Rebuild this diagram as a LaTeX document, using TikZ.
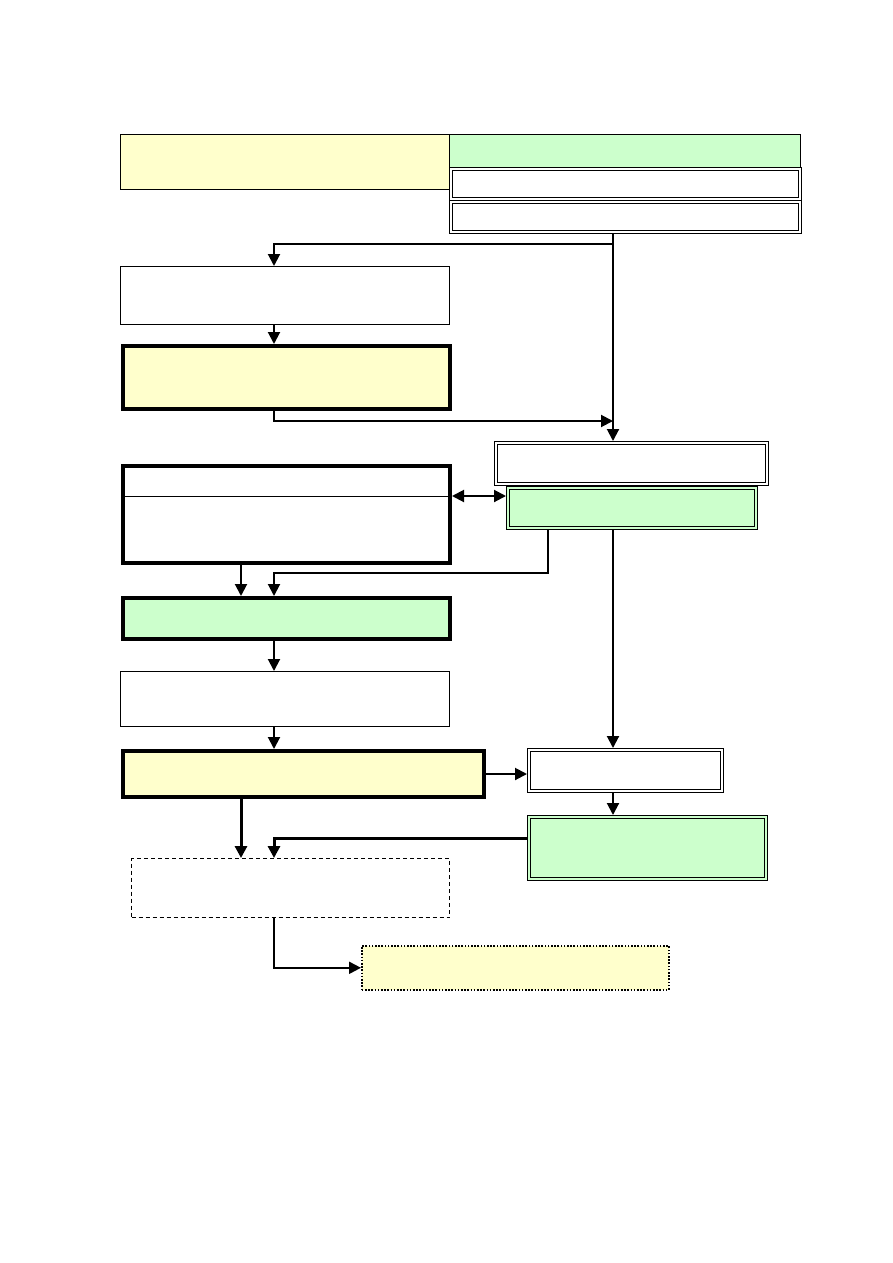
\documentclass[tikz,border=0pt]{standalone}
\definecolor{paleyellow}{RGB}{255,255,204}
\definecolor{palegreen}{RGB}{204,255,204}
\usepackage{tikz}
\usetikzlibrary{arrows.meta}

\begin{document}
\begin{tikzpicture}[x=1pt, y=-1pt,
  plain/.style={draw, line width=1pt, anchor=north west, inner sep=0pt},
  heavy/.style={draw, line width=4pt, anchor=north west, inner sep=0pt},
  twin/.style={plain, fill=#1, path picture={
      \draw[line width=1pt]
        ([shift={(3pt,-3pt)}]path picture bounding box.north west) rectangle
        ([shift={(-3pt,3pt)}]path picture bounding box.south east);}},
  twin/.default=white,
  conn/.style={line width=2pt, -{Triangle[length=12pt,width=12pt]}},
  bold conn/.style={conn, line width=3pt},
]
\useasboundingbox (0,0) rectangle (893,1263);

% Columns of the connectors
\coordinate (col) at (613,0);
\coordinate (lcol) at (274,0);
\coordinate (mcol) at (241,0);
\coordinate (fcol) at (548,0);

% Top row
\node[plain, fill=paleyellow, minimum width=329pt, minimum height=55pt] (head) at (120,134) {};
\node[plain, fill=palegreen, minimum width=351pt, minimum height=33pt] (title) at (449,134) {};
\node[twin, minimum width=352pt, minimum height=33pt] (row1) at (449,167) {};
\node[twin, minimum width=352pt, minimum height=33pt] (row2) at (449,200) {};

% Left column
\node[plain, minimum width=329pt, minimum height=58pt] (C) at (120,266) {};
\node[heavy, fill=paleyellow, minimum width=327pt, minimum height=63pt] (D) at (121,344) {};
\node[heavy, minimum width=327pt, minimum height=97pt] (G) at (121,464) {};
\draw[line width=1pt] ([yshift=-32pt]G.north west) -- ([yshift=-32pt]G.north east);
\coordinate (gl) at ([yshift=-32pt]G.north);
\node[heavy, fill=palegreen, minimum width=327pt, minimum height=41pt] (H) at (121,596) {};
\node[plain, minimum width=329pt, minimum height=55pt] (I) at (120,671) {};
\node[heavy, fill=paleyellow, minimum width=361pt, minimum height=46pt] (K) at (121,749) {};
\node[plain, dashed, dash pattern=on 4pt off 3pt, minimum width=318pt, minimum height=59pt] (M) at (131,858) {};
\node[plain, fill=paleyellow, line width=1.6pt, dash pattern=on 1.6pt off 1.6pt,
  minimum width=307pt, minimum height=44pt] (N) at (361,945) {};

% Right column
\node[twin, minimum width=274pt, minimum height=44pt] (E) at (494,441) {};
\node[twin=palegreen, minimum width=251pt, minimum height=43pt] (F) at (506,486) {};
\node[twin, minimum width=196pt, minimum height=44pt] (J) at (527,748) {};
\node[twin=palegreen, minimum width=240pt, minimum height=65pt] (L) at (527,815) {};

% Arrows
\draw[conn] (row2.south -| col) -- ++(0,10) -| (C.north -| lcol);
\draw[conn] (row2.south -| col) -- (E.north -| col);
\draw[conn] (C.south -| lcol) -- (D.north -| lcol);
\draw[conn] (D.south -| lcol) -- ++(0,10) coordinate (dturn) -- (dturn -| col);
\draw[conn, {Triangle[length=12pt,width=12pt]}-{Triangle[length=12pt,width=12pt]}]
  (G.east |- gl) -- (F.west |- gl);
\draw[conn] (G.south -| mcol) -- (H.north -| mcol);
\draw[conn] (F.south -| fcol) -- ++(0,43) -| (H.north -| lcol);
\draw[conn] (F.south -| col) -- (J.north -| col);
\draw[conn] (H.south -| lcol) -- (I.north -| lcol);
\draw[conn] (I.south -| lcol) -- (K.north -| lcol);
\draw[conn] (K.east) -- (K.east -| J.west);
\draw[conn] (J.south -| col) -- (L.north -| col);
\draw[bold conn] ([yshift=10pt]L.west) -| (M.north -| lcol);
\draw[bold conn] (K.south -| mcol) -- (M.north -| mcol);
\draw[conn] (M.south -| lcol) |- (N.west);
\end{tikzpicture}
\end{document}
